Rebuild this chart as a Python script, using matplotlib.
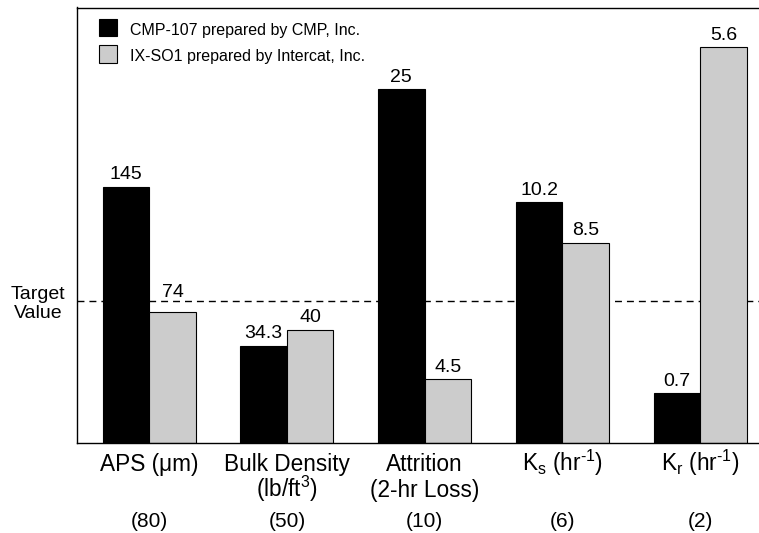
import matplotlib
matplotlib.use('Agg')
import matplotlib.pyplot as plt
import matplotlib.transforms as mtransforms
from matplotlib.patches import Patch
from matplotlib.legend_handler import HandlerPatch
import numpy as np

plt.rcParams['font.family'] = ['Liberation Sans', 'DejaVu Sans']
plt.rcParams['mathtext.fontset'] = 'custom'
plt.rcParams['mathtext.rm'] = 'Liberation Sans'
plt.rcParams['mathtext.it'] = 'Liberation Sans:italic'
plt.rcParams['mathtext.bf'] = 'Liberation Sans:bold'

# ---------------- data ----------------
categories_line1 = ['APS (\u03bcm)', 'Bulk Density', 'Attrition',
                    'K$_{\\mathrm{s}}$ (hr$^{\\mathrm{\u2010}1}$)',
                    'K$_{\\mathrm{r}}$ (hr$^{\\mathrm{\u2010}1}$)']
categories_line2 = ['', r'(lb/ft$^{\mathrm{3}}$)', '(2-hr Loss)', '', '']
target_values = [80, 50, 10, 6, 2]
target_labels = ['(80)', '(50)', '(10)', '(6)', '(2)']
cmp107 = [145, 34.3, 25, 10.2, 0.7]
ixso1 = [74, 40, 4.5, 8.5, 5.6]
cmp107_labels = ['145', '34.3', '25', '10.2', '0.7']
ixso1_labels = ['74', '40', '4.5', '8.5', '5.6']
series_names = ['CMP-107 prepared by CMP, Inc.', 'IX-SO1 prepared by Intercat, Inc.']
target_text = 'Target\nValue'

# ---------------- figure ----------------
W, H = 759, 533
fig = plt.figure(figsize=(W / 100, H / 100), dpi=100)
ax = fig.add_axes([77.3 / W, 1 - 442.7 / H, 1 - 77.3 / W, (442.7 - 7.5) / H])

x = np.arange(len(categories_line1))
t = np.array(target_values, dtype=float)
h1 = np.array(cmp107) / t
h2 = np.array(ixso1) / t
w = 0.338
gray = '#cccccc'

ax.axhline(1.0, color='black', lw=1.0, ls=(0, (5, 3.6)), zorder=1)
ax.bar(x - w / 2, h1, w, color='black', edgecolor='black', lw=0.8, zorder=2)
ax.bar(x + w / 2, h2, w, color=gray, edgecolor='black', lw=0.8, zorder=2)

ax.set_xlim(-0.522, (W - 149.3) / 137.7)
ax.set_ylim(0, 435.2 / 141.3)
ax.set_xticks([])
ax.set_yticks([])
for s in ['top', 'left', 'bottom']:
    ax.spines[s].set_linewidth(1.0)
ax.spines['right'].set_visible(False)

# value labels
gap_px = 7.5
label_h_px = 12.0
line_px = ax.transData.transform((0, 1.0))[1]
for xs, hs, labs in [(x - w / 2, h1, cmp107_labels), (x + w / 2, h2, ixso1_labels)]:
    for xi, hi, lab in zip(xs, hs, labs):
        top_px = ax.transData.transform((0, hi))[1]
        base = top_px + gap_px
        if base < line_px < base + label_h_px:
            base = line_px + 4.7
        off = (base - top_px) * 72 / 100
        ax.annotate(lab, (xi, hi), xytext=(0, off), textcoords='offset points',
                    ha='center', va='baseline', fontsize=14)

# category labels
xtrans = ax.get_xaxis_transform()
def below(px):
    return mtransforms.offset_copy(xtrans, fig=fig, x=0, y=-px, units='dots')
for i in range(len(x)):
    ax.text(x[i], 0, categories_line1[i], transform=below(28.3), ha='center',
            va='baseline', fontsize=16.3)
    if categories_line2[i]:
        ax.text(x[i], 0, categories_line2[i], transform=below(54.0), ha='center',
                va='baseline', fontsize=16.3)
    ax.text(x[i], 0, target_labels[i], transform=below(84.3), ha='center',
            va='baseline', fontsize=15)

# target value text (baseline refers to the last line)
ytrans = mtransforms.offset_copy(ax.get_yaxis_transform(), fig=fig, x=-11.6, y=-16.9, units='dots')
ax.text(0, 1.0, target_text, transform=ytrans, ha='right', va='baseline',
        ma='center', fontsize=14)

# legend
handles = [Patch(facecolor='black', edgecolor='black', lw=0.8),
           Patch(facecolor=gray, edgecolor='black', lw=0.8)]
leg = ax.legend(handles, series_names, loc='upper left',
                bbox_to_anchor=(99 / W, 1 - 19 / H), bbox_transform=fig.transFigure,
                frameon=False, borderpad=0, borderaxespad=0, fontsize=11.5,
                handlelength=1.11, handleheight=1.714, handletextpad=0.8,
                labelspacing=0.28,
                handler_map={Patch: HandlerPatch(ypad=0.269)})

fig.savefig('out.png', dpi=100)
